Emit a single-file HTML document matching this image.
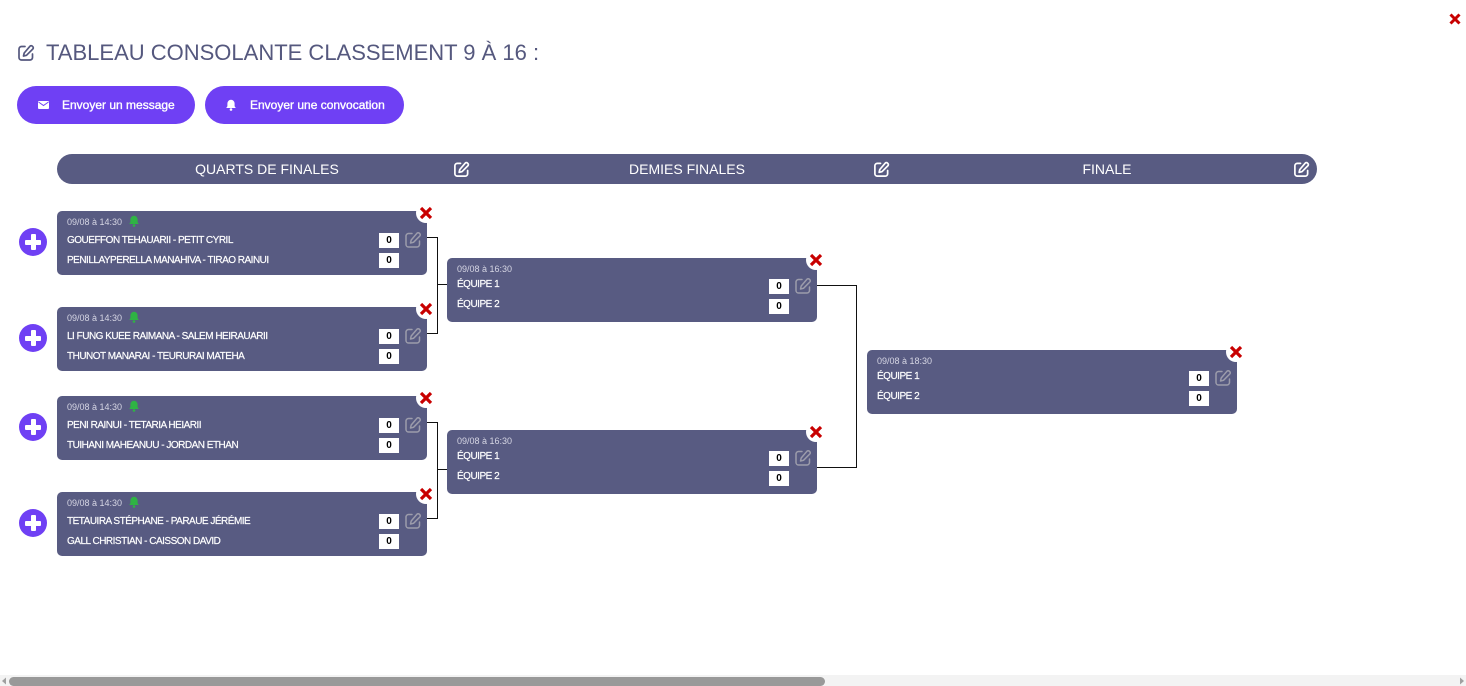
<!DOCTYPE html>
<html><head><meta charset="utf-8">
<style>
*{margin:0;padding:0;box-sizing:border-box}
body{width:1466px;height:686px;background:#fff;position:relative;overflow:hidden;font-family:"Liberation Sans",Arial,sans-serif}
.abs{position:absolute}
.title{left:46px;top:40px;font-size:22px;line-height:26px;color:#55587e;white-space:nowrap}
.btn{position:absolute;top:86px;height:38px;border-radius:19px;background:#6f40f4;color:#fff;font-size:12px;line-height:38px;white-space:nowrap;-webkit-text-stroke:0.35px #fff}
.band{left:57px;top:154px;width:1260px;height:30px;border-radius:15px;background:#585b82}
.band .t{position:absolute;top:0;width:420px;text-align:center;line-height:30px;color:#fff;font-size:14px}
.band svg{position:absolute;top:7px}
.card{position:absolute;width:370px;height:64px;border-radius:5px;background:#585b82}
.card .d{position:absolute;left:10px;top:5px;font-size:9px;line-height:12px;color:#d6d6e4;white-space:nowrap}
.card .n{position:absolute;left:10px;font-size:10px;line-height:12px;color:#fff;letter-spacing:-0.5px;white-space:nowrap;-webkit-text-stroke:0.2px #fff}
.card .s{position:absolute;left:322px;width:20px;height:15px;background:#fff;color:#000;font-size:10px;font-weight:bold;line-height:15px;text-align:center}
.card .e{position:absolute;left:347px;top:20px}
.card .b{position:absolute;left:72px;top:4px}
.xc{position:absolute;width:20px;height:20px;border-radius:10px;background:#fff}
.xc svg{position:absolute;left:3px;top:3px}
.plus{position:absolute;left:19px;width:28px;height:28px;border-radius:14px;background:#6f40f4}
.plus:before{content:"";position:absolute;left:6px;top:11.5px;width:16px;height:5px;background:#fff;border-radius:1px}
.plus:after{content:"";position:absolute;left:11.5px;top:6px;width:5px;height:16px;background:#fff;border-radius:1px}
.h{position:absolute;height:1px;background:#111}
.v{position:absolute;width:1px;background:#111}
</style></head><body>

<!-- top right close -->
<svg class="abs" style="left:1449px;top:13px" width="12" height="12" viewBox="0 0 12 12"><path d="M1.5 1.5L10.5 10.5M10.5 1.5L1.5 10.5" stroke="#c80000" stroke-width="3"/></svg>

<!-- title -->
<svg class="abs" style="left:17px;top:44px" width="18" height="18" viewBox="0 0 18 18" fill="none" stroke="#55587e" stroke-width="1.7" stroke-linejoin="round" stroke-linecap="round"><path d="M8 2.5H4.5A2.5 2.5 0 0 0 2 5v8.5A2.5 2.5 0 0 0 4.5 16H13a2.5 2.5 0 0 0 2.5-2.5V10"/><path d="M13 2.2a1.6 1.6 0 0 1 2.3 0l.5.5a1.6 1.6 0 0 1 0 2.3L9.5 11.3 6.5 12l.7-3z"/></svg>
<div class="abs title">TABLEAU CONSOLANTE CLASSEMENT 9 À 16 :</div>

<!-- buttons -->
<div class="btn" style="left:17px;width:178px">
  <svg class="abs" style="left:21px;top:15px" width="11" height="8" viewBox="0 0 11 8"><rect x="0" y="0" width="11" height="8" rx="1" fill="#fff"/><path d="M0.5 1L5.5 4.5L10.5 1" stroke="#6f40f4" stroke-width="1" fill="none"/></svg>
  <span class="abs" style="left:45px;top:0">Envoyer un message</span>
</div>
<div class="btn" style="left:205px;width:199px">
  <svg class="abs" style="left:21px;top:13px" width="10" height="12" viewBox="0 0 10 12"><path d="M5 0.8a3.6 3.6 0 0 0-3.6 3.6v2.8L0.2 9h9.6L8.6 7.2V4.4A3.6 3.6 0 0 0 5 0.8z" fill="#fff"/><circle cx="5" cy="10.5" r="1.3" fill="#fff"/></svg>
  <span class="abs" style="left:45px;top:0">Envoyer une convocation</span>
</div>

<!-- header band -->
<div class="abs band">
  <div class="t" style="left:0">QUARTS DE FINALES</div>
  <div class="t" style="left:420px">DEMIES FINALES</div>
  <div class="t" style="left:840px">FINALE</div>
  <svg style="left:396px" width="17" height="17" viewBox="0 0 18 18" fill="none" stroke="#fff" stroke-width="1.8" stroke-linejoin="round" stroke-linecap="round"><path d="M8 2.5H4.5A2.5 2.5 0 0 0 2 5v8.5A2.5 2.5 0 0 0 4.5 16H13a2.5 2.5 0 0 0 2.5-2.5V10"/><path d="M13 2.2a1.6 1.6 0 0 1 2.3 0l.5.5a1.6 1.6 0 0 1 0 2.3L9.5 11.3 6.5 12l.7-3z"/></svg>
  <svg style="left:816px" width="17" height="17" viewBox="0 0 18 18" fill="none" stroke="#fff" stroke-width="1.8" stroke-linejoin="round" stroke-linecap="round"><path d="M8 2.5H4.5A2.5 2.5 0 0 0 2 5v8.5A2.5 2.5 0 0 0 4.5 16H13a2.5 2.5 0 0 0 2.5-2.5V10"/><path d="M13 2.2a1.6 1.6 0 0 1 2.3 0l.5.5a1.6 1.6 0 0 1 0 2.3L9.5 11.3 6.5 12l.7-3z"/></svg>
  <svg style="left:1236px" width="17" height="17" viewBox="0 0 18 18" fill="none" stroke="#fff" stroke-width="1.8" stroke-linejoin="round" stroke-linecap="round"><path d="M8 2.5H4.5A2.5 2.5 0 0 0 2 5v8.5A2.5 2.5 0 0 0 4.5 16H13a2.5 2.5 0 0 0 2.5-2.5V10"/><path d="M13 2.2a1.6 1.6 0 0 1 2.3 0l.5.5a1.6 1.6 0 0 1 0 2.3L9.5 11.3 6.5 12l.7-3z"/></svg>
</div>

<!-- connectors -->
<div class="h" style="left:427px;top:237px;width:11px"></div>
<div class="h" style="left:427px;top:333px;width:11px"></div>
<div class="v" style="left:437px;top:237px;height:97px"></div>
<div class="h" style="left:437px;top:284px;width:10px"></div>

<div class="h" style="left:427px;top:422px;width:11px"></div>
<div class="h" style="left:427px;top:518px;width:11px"></div>
<div class="v" style="left:437px;top:422px;height:97px"></div>
<div class="h" style="left:437px;top:469px;width:10px"></div>

<div class="h" style="left:817px;top:285px;width:40px"></div>
<div class="h" style="left:817px;top:467px;width:40px"></div>
<div class="v" style="left:856px;top:285px;height:183px"></div>

<!-- plus circles -->
<div class="plus" style="top:228px"></div>
<div class="plus" style="top:324px"></div>
<div class="plus" style="top:413px"></div>
<div class="plus" style="top:509px"></div>

<!-- quarter cards -->
<div class="card" style="left:57px;top:211px">
  <div class="d">09/08 à 14:30</div>
  <svg class="b" width="10" height="12" viewBox="0 0 10 12"><path d="M5 0.8a3.6 3.6 0 0 0-3.6 3.6v2.8L0.2 9h9.6L8.6 7.2V4.4A3.6 3.6 0 0 0 5 0.8z" fill="#2fb344"/><circle cx="5" cy="10.5" r="1.3" fill="#2fb344"/></svg>
  <div class="n" style="top:24px">GOUEFFON TEHAUARII - PETIT CYRIL</div>
  <div class="n" style="top:44px">PENILLAYPERELLA MANAHIVA - TIRAO RAINUI</div>
  <div class="s" style="top:22px">0</div><div class="s" style="top:42px">0</div>
  <svg class="e" width="18" height="18" viewBox="0 0 18 18" fill="none" stroke="#9c9cab" stroke-width="1.5" stroke-linejoin="round" stroke-linecap="round"><path d="M8 2.5H4.5A2.5 2.5 0 0 0 2 5v8.5A2.5 2.5 0 0 0 4.5 16H13a2.5 2.5 0 0 0 2.5-2.5V10"/><path d="M13 2.2a1.6 1.6 0 0 1 2.3 0l.5.5a1.6 1.6 0 0 1 0 2.3L9.5 11.3 6.5 12l.7-3z"/></svg>
</div>
<div class="card" style="left:57px;top:307px">
  <div class="d">09/08 à 14:30</div>
  <svg class="b" width="10" height="12" viewBox="0 0 10 12"><path d="M5 0.8a3.6 3.6 0 0 0-3.6 3.6v2.8L0.2 9h9.6L8.6 7.2V4.4A3.6 3.6 0 0 0 5 0.8z" fill="#2fb344"/><circle cx="5" cy="10.5" r="1.3" fill="#2fb344"/></svg>
  <div class="n" style="top:24px">LI FUNG KUEE RAIMANA - SALEM HEIRAUARII</div>
  <div class="n" style="top:44px">THUNOT MANARAI - TEURURAI MATEHA</div>
  <div class="s" style="top:22px">0</div><div class="s" style="top:42px">0</div>
  <svg class="e" width="18" height="18" viewBox="0 0 18 18" fill="none" stroke="#9c9cab" stroke-width="1.5" stroke-linejoin="round" stroke-linecap="round"><path d="M8 2.5H4.5A2.5 2.5 0 0 0 2 5v8.5A2.5 2.5 0 0 0 4.5 16H13a2.5 2.5 0 0 0 2.5-2.5V10"/><path d="M13 2.2a1.6 1.6 0 0 1 2.3 0l.5.5a1.6 1.6 0 0 1 0 2.3L9.5 11.3 6.5 12l.7-3z"/></svg>
</div>
<div class="card" style="left:57px;top:396px">
  <div class="d">09/08 à 14:30</div>
  <svg class="b" width="10" height="12" viewBox="0 0 10 12"><path d="M5 0.8a3.6 3.6 0 0 0-3.6 3.6v2.8L0.2 9h9.6L8.6 7.2V4.4A3.6 3.6 0 0 0 5 0.8z" fill="#2fb344"/><circle cx="5" cy="10.5" r="1.3" fill="#2fb344"/></svg>
  <div class="n" style="top:24px">PENI RAINUI - TETARIA HEIARII</div>
  <div class="n" style="top:44px">TUIHANI MAHEANUU - JORDAN ETHAN</div>
  <div class="s" style="top:22px">0</div><div class="s" style="top:42px">0</div>
  <svg class="e" width="18" height="18" viewBox="0 0 18 18" fill="none" stroke="#9c9cab" stroke-width="1.5" stroke-linejoin="round" stroke-linecap="round"><path d="M8 2.5H4.5A2.5 2.5 0 0 0 2 5v8.5A2.5 2.5 0 0 0 4.5 16H13a2.5 2.5 0 0 0 2.5-2.5V10"/><path d="M13 2.2a1.6 1.6 0 0 1 2.3 0l.5.5a1.6 1.6 0 0 1 0 2.3L9.5 11.3 6.5 12l.7-3z"/></svg>
</div>
<div class="card" style="left:57px;top:492px">
  <div class="d">09/08 à 14:30</div>
  <svg class="b" width="10" height="12" viewBox="0 0 10 12"><path d="M5 0.8a3.6 3.6 0 0 0-3.6 3.6v2.8L0.2 9h9.6L8.6 7.2V4.4A3.6 3.6 0 0 0 5 0.8z" fill="#2fb344"/><circle cx="5" cy="10.5" r="1.3" fill="#2fb344"/></svg>
  <div class="n" style="top:24px">TETAUIRA STÉPHANE - PARAUE JÉRÉMIE</div>
  <div class="n" style="top:44px">GALL CHRISTIAN - CAISSON DAVID</div>
  <div class="s" style="top:22px">0</div><div class="s" style="top:42px">0</div>
  <svg class="e" width="18" height="18" viewBox="0 0 18 18" fill="none" stroke="#9c9cab" stroke-width="1.5" stroke-linejoin="round" stroke-linecap="round"><path d="M8 2.5H4.5A2.5 2.5 0 0 0 2 5v8.5A2.5 2.5 0 0 0 4.5 16H13a2.5 2.5 0 0 0 2.5-2.5V10"/><path d="M13 2.2a1.6 1.6 0 0 1 2.3 0l.5.5a1.6 1.6 0 0 1 0 2.3L9.5 11.3 6.5 12l.7-3z"/></svg>
</div>

<!-- semis -->
<div class="card" style="left:447px;top:258px">
  <div class="d">09/08 à 16:30</div>
  <div class="n" style="top:21px">ÉQUIPE 1</div>
  <div class="n" style="top:41px">ÉQUIPE 2</div>
  <div class="s" style="top:21px">0</div><div class="s" style="top:41px">0</div>
  <svg class="e" style="top:19px" width="18" height="18" viewBox="0 0 18 18" fill="none" stroke="#9c9cab" stroke-width="1.5" stroke-linejoin="round" stroke-linecap="round"><path d="M8 2.5H4.5A2.5 2.5 0 0 0 2 5v8.5A2.5 2.5 0 0 0 4.5 16H13a2.5 2.5 0 0 0 2.5-2.5V10"/><path d="M13 2.2a1.6 1.6 0 0 1 2.3 0l.5.5a1.6 1.6 0 0 1 0 2.3L9.5 11.3 6.5 12l.7-3z"/></svg>
</div>
<div class="card" style="left:447px;top:430px">
  <div class="d">09/08 à 16:30</div>
  <div class="n" style="top:21px">ÉQUIPE 1</div>
  <div class="n" style="top:41px">ÉQUIPE 2</div>
  <div class="s" style="top:21px">0</div><div class="s" style="top:41px">0</div>
  <svg class="e" style="top:19px" width="18" height="18" viewBox="0 0 18 18" fill="none" stroke="#9c9cab" stroke-width="1.5" stroke-linejoin="round" stroke-linecap="round"><path d="M8 2.5H4.5A2.5 2.5 0 0 0 2 5v8.5A2.5 2.5 0 0 0 4.5 16H13a2.5 2.5 0 0 0 2.5-2.5V10"/><path d="M13 2.2a1.6 1.6 0 0 1 2.3 0l.5.5a1.6 1.6 0 0 1 0 2.3L9.5 11.3 6.5 12l.7-3z"/></svg>
</div>

<!-- final -->
<div class="card" style="left:867px;top:350px">
  <div class="d">09/08 à 18:30</div>
  <div class="n" style="top:21px">ÉQUIPE 1</div>
  <div class="n" style="top:41px">ÉQUIPE 2</div>
  <div class="s" style="top:21px">0</div><div class="s" style="top:41px">0</div>
  <svg class="e" style="top:19px" width="18" height="18" viewBox="0 0 18 18" fill="none" stroke="#9c9cab" stroke-width="1.5" stroke-linejoin="round" stroke-linecap="round"><path d="M8 2.5H4.5A2.5 2.5 0 0 0 2 5v8.5A2.5 2.5 0 0 0 4.5 16H13a2.5 2.5 0 0 0 2.5-2.5V10"/><path d="M13 2.2a1.6 1.6 0 0 1 2.3 0l.5.5a1.6 1.6 0 0 1 0 2.3L9.5 11.3 6.5 12l.7-3z"/></svg>
</div>

<!-- close buttons on cards -->
<div class="xc" style="left:416px;top:203px"><svg width="14" height="14" viewBox="0 0 14 14"><path d="M2 2L12 12M12 2L2 12" stroke="#c80000" stroke-width="3.2"/></svg></div>
<div class="xc" style="left:416px;top:299px"><svg width="14" height="14" viewBox="0 0 14 14"><path d="M2 2L12 12M12 2L2 12" stroke="#c80000" stroke-width="3.2"/></svg></div>
<div class="xc" style="left:416px;top:388px"><svg width="14" height="14" viewBox="0 0 14 14"><path d="M2 2L12 12M12 2L2 12" stroke="#c80000" stroke-width="3.2"/></svg></div>
<div class="xc" style="left:416px;top:484px"><svg width="14" height="14" viewBox="0 0 14 14"><path d="M2 2L12 12M12 2L2 12" stroke="#c80000" stroke-width="3.2"/></svg></div>
<div class="xc" style="left:806px;top:250px"><svg width="14" height="14" viewBox="0 0 14 14"><path d="M2 2L12 12M12 2L2 12" stroke="#c80000" stroke-width="3.2"/></svg></div>
<div class="xc" style="left:806px;top:422px"><svg width="14" height="14" viewBox="0 0 14 14"><path d="M2 2L12 12M12 2L2 12" stroke="#c80000" stroke-width="3.2"/></svg></div>
<div class="xc" style="left:1226px;top:342px"><svg width="14" height="14" viewBox="0 0 14 14"><path d="M2 2L12 12M12 2L2 12" stroke="#c80000" stroke-width="3.2"/></svg></div>

<!-- scrollbar -->
<div class="abs" style="left:0;top:675px;width:1466px;height:11px;background:#f3f3f3"></div>
<svg class="abs" style="left:1px;top:677px" width="6" height="8" viewBox="0 0 6 8"><path d="M5 0.5L1 4L5 7.5z" fill="#a0a0a0"/></svg>
<svg class="abs" style="left:1459px;top:677px" width="6" height="8" viewBox="0 0 6 8"><path d="M1 0.5L5 4L1 7.5z" fill="#a0a0a0"/></svg>
<div class="abs" style="left:9px;top:677px;width:816px;height:9px;border-radius:4.5px;background:#999"></div>

</body></html>
